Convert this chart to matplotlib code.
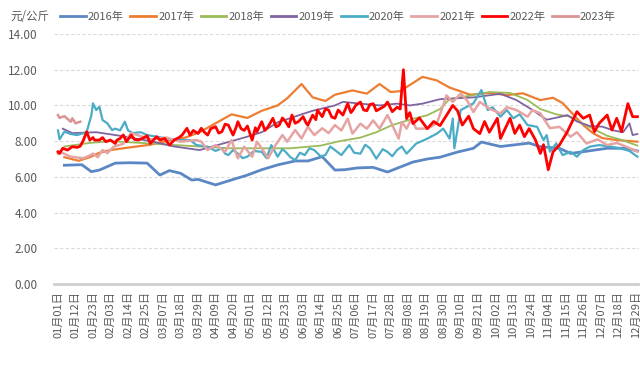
import matplotlib
matplotlib.use('Agg')
import matplotlib.pyplot as plt
from matplotlib.lines import Line2D

plt.rcParams['font.family'] = ['Noto Sans CJK SC', 'DejaVu Sans']

# x = day of year (0 = 01月01日)
tick_labels = ['01月01日', '01月12日', '01月23日', '02月03日', '02月14日', '02月25日',
               '03月07日', '03月18日', '03月29日', '04月09日', '04月20日', '05月01日',
               '05月12日', '05月23日', '06月03日', '06月14日', '06月25日', '07月06日',
               '07月17日', '07月28日', '08月08日', '08月19日', '08月30日', '09月10日',
               '09月21日', '10月02日', '10月13日', '10月24日', '11月04日', '11月15日',
               '11月26日', '12月07日', '12月18日', '12月29日']
tick_pos = [i * 11 for i in range(len(tick_labels))]

d2016 = [4, 15, 21, 26, 36, 45, 56, 64, 70, 77, 84, 88, 99, 107, 119, 128, 138, 149, 157, 166,
         174, 180, 188, 198, 207, 215, 223, 232, 240, 251, 261, 266, 278, 296, 303, 315, 322,
         330, 345, 357, 364]
v2016 = [6.65, 6.68, 6.29, 6.38, 6.77, 6.79, 6.77, 6.10, 6.35, 6.20, 5.82, 5.86, 5.55, 5.77, 6.10,
         6.40, 6.67, 6.89, 6.89, 7.13, 6.38, 6.40, 6.50, 6.53, 6.27, 6.55, 6.83, 7.00, 7.10, 7.39,
         7.60, 7.95, 7.70, 7.89, 7.69, 7.60, 7.31, 7.41, 7.60, 7.60, 7.45]

d2017 = [4, 13, 20, 26, 33, 41, 58, 73, 80, 89, 97, 109, 119, 128, 138, 144, 153, 160, 168, 174,
         185, 194, 202, 209, 215, 229, 238, 246, 259, 271, 282, 292, 303, 311, 317, 323, 330,
         336, 342, 351, 364]
v2017 = [7.10, 6.90, 7.10, 7.35, 7.50, 7.60, 7.80, 8.10, 8.20, 8.50, 8.90, 9.50, 9.30, 9.70, 10.00,
         10.40, 11.20, 10.45, 10.25, 10.60, 10.84, 10.66, 11.20, 10.75, 10.80, 11.60, 11.40, 11.00,
         10.60, 10.70, 10.58, 10.68, 10.30, 10.43, 10.13, 9.56, 8.90, 8.45, 8.17, 8.06, 7.97]

d2018 = [4, 20, 33, 52, 70, 89, 108, 127, 146, 165, 177, 190, 200, 210, 223, 232, 240, 246, 259,
         271, 284, 295, 303, 313, 322, 328, 336, 345, 353, 364]
v2018 = [7.70, 7.90, 8.00, 7.90, 7.80, 7.70, 7.60, 7.60, 7.60, 7.75, 8.00, 8.20, 8.50, 8.90, 9.25,
         9.45, 9.80, 10.35, 10.55, 10.75, 10.70, 10.30, 9.80, 9.50, 9.37, 9.05, 8.70, 8.30, 8.10, 7.75]

d2019 = [3, 9, 24, 39, 58, 73, 89, 105, 117, 128, 138, 153, 160, 174, 179, 190, 202, 213, 221, 229,
         240, 261, 278, 288, 298, 307, 315, 320, 326, 334, 342, 349, 355, 359, 361, 364]
v2019 = [8.70, 8.45, 8.50, 8.30, 8.00, 7.70, 7.50, 7.90, 8.20, 8.50, 9.05, 9.50, 9.70, 10.00, 10.20,
         10.10, 10.00, 10.10, 10.00, 10.10, 10.35, 10.45, 10.65, 10.30, 9.75, 9.20, 9.35, 9.46, 9.10,
         8.85, 8.81, 8.60, 8.50, 9.00, 8.34, 8.40]

d2020 = [0, 1, 4, 8, 12, 18, 21, 22, 24, 26, 28, 31, 34, 36, 39, 42, 44, 47, 52, 56, 62, 68, 75,
         83, 87, 94, 99, 103, 105, 107, 110, 113, 116, 119, 123, 128, 131, 134, 138, 141, 143, 146,
         149, 152, 155, 158, 161, 165, 168, 171, 174, 178, 183, 186, 190, 193, 196, 200, 204, 207,
         210, 213, 216, 219, 225, 232, 238, 242, 246, 248, 249, 253, 261, 266, 270, 273, 278, 282,
         286, 290, 295, 301, 305, 307, 309, 313, 317, 322, 326, 330, 334, 340, 347, 353, 359, 364]
v2020 = [8.60, 8.10, 8.53, 8.40, 8.34, 8.50, 9.46, 10.12, 9.74, 9.93, 9.18, 9.00, 8.62, 8.70, 8.60,
         9.09, 8.60, 8.45, 8.50, 8.34, 8.25, 8.15, 8.06, 8.06, 7.78, 7.69, 7.45, 7.60, 7.30, 7.22,
         7.50, 7.30, 7.05, 7.13, 7.45, 7.40, 7.05, 7.78, 7.13, 7.55, 7.40, 7.10, 6.94, 7.35, 7.22,
         7.60, 7.50, 7.15, 7.22, 7.70, 7.50, 7.22, 7.78, 7.35, 7.30, 7.80, 7.60, 7.02, 7.55, 7.40,
         7.15, 7.50, 7.70, 7.30, 7.86, 8.14, 8.42, 8.70, 8.14, 9.26, 7.60, 9.74, 10.12, 10.86, 9.74,
         9.90, 9.37, 9.74, 9.28, 9.50, 8.90, 8.80, 8.06, 8.34, 7.41, 7.87, 7.22, 7.40, 7.13, 7.50,
         7.69, 7.78, 7.70, 7.60, 7.45, 7.13]

d2021 = [0, 1, 8, 16, 20, 22, 25, 28, 31, 35, 41, 46, 50, 58, 68, 77, 87, 90, 94, 99, 105, 109,
         113, 117, 122, 125, 128, 132, 136, 141, 144, 149, 153, 157, 161, 166, 170, 174, 178, 182,
         185, 190, 194, 198, 202, 207, 210, 214, 216, 219, 222, 225, 232, 238, 242, 244, 248, 253,
         257, 261, 265, 271, 278, 282, 288, 295, 298, 303, 309, 315, 322, 326, 332, 339, 345, 351,
         357, 364]
v2021 = [7.30, 7.41, 7.13, 7.04, 7.20, 7.30, 7.10, 7.50, 7.33, 7.69, 7.85, 8.45, 8.34, 8.10, 8.20,
         7.97, 8.06, 7.97, 7.50, 7.78, 7.41, 8.06, 7.04, 7.69, 7.13, 7.97, 7.60, 7.04, 7.69, 8.34,
         7.97, 8.62, 8.15, 8.81, 8.34, 8.72, 8.45, 8.90, 8.60, 9.26, 8.42, 8.98, 8.70, 9.16, 8.70,
         9.46, 8.90, 8.14, 9.07, 8.70, 9.26, 8.70, 8.70, 9.00, 10.00, 10.56, 10.20, 10.66, 10.28,
         9.63, 10.20, 9.82, 9.55, 9.90, 9.74, 9.37, 9.74, 9.56, 8.73, 8.80, 8.25, 8.50, 7.87, 8.10,
         7.78, 7.90, 7.69, 7.41]

d2022 = [0, 1, 3, 6, 9, 12, 14, 16, 18, 20, 22, 23, 26, 28, 30, 33, 36, 37, 39, 41, 43, 46, 48, 50,
         53, 56, 58, 60, 62, 64, 67, 70, 73, 76, 78, 81, 83, 85, 88, 90, 92, 94, 96, 99, 101, 103,
         105, 107, 110, 112, 113, 115, 117, 119, 122, 124, 125, 127, 128, 130, 132, 135, 137, 139,
         141, 143, 145, 147, 149, 151, 154, 156, 157, 160, 162, 163, 166, 168, 170, 172, 174, 176,
         179, 182, 184, 185, 187, 190, 192, 194, 196, 198, 200, 202, 205, 207, 210, 213, 215, 217,
         219, 221, 223, 227, 232, 236, 240, 244, 248, 251, 254, 258, 261, 265, 268, 271, 276, 278,
         284, 287, 290, 293, 296, 300, 303, 305, 308, 311, 315, 320, 323, 326, 330, 334, 337, 340,
         345, 348, 351, 354, 358, 361, 364]
v2022 = [7.40, 7.31, 7.60, 7.50, 7.69, 7.65, 7.72, 8.06, 8.53, 8.06, 8.20, 8.06, 8.06, 8.20, 7.97,
         8.06, 7.87, 8.06, 8.15, 8.35, 7.97, 8.34, 8.10, 8.06, 8.15, 8.30, 7.87, 8.06, 8.25, 8.06,
         8.15, 7.78, 8.06, 8.20, 8.34, 8.72, 8.34, 8.60, 8.43, 8.72, 8.50, 8.34, 8.70, 8.81, 8.45,
         8.53, 8.95, 8.90, 8.34, 8.80, 9.09, 8.70, 8.60, 8.85, 8.06, 8.75, 8.53, 8.90, 9.09, 8.60,
         8.81, 9.28, 8.80, 8.90, 9.30, 9.09, 8.80, 9.46, 9.00, 9.09, 9.37, 9.00, 8.90, 9.46, 9.20,
         9.74, 9.37, 9.80, 9.74, 9.35, 9.28, 9.74, 9.46, 10.10, 9.60, 9.70, 10.00, 10.19, 9.75, 9.70,
         10.05, 10.10, 9.70, 9.80, 9.95, 10.19, 9.65, 9.90, 9.80, 12.00, 9.26, 9.60, 8.98, 9.30,
         8.70, 9.10, 8.87, 9.44, 10.00, 9.70, 8.90, 9.40, 8.70, 8.42, 9.10, 8.50, 9.28, 8.15, 9.28,
         8.43, 8.90, 8.25, 8.70, 8.06, 7.31, 7.80, 6.40, 7.40, 7.78, 8.53, 9.09, 9.65, 9.28, 9.46,
         8.53, 9.00, 9.46, 8.62, 9.28, 8.53, 10.10, 9.37, 9.37]

d2023 = [0, 1, 4, 8, 9, 11, 14]
v2023 = [9.46, 9.30, 9.40, 9.09, 9.28, 9.00, 9.09]

years = ['2016年', '2017年', '2018年', '2019年', '2020年', '2021年', '2022年', '2023年']
days = [d2016, d2017, d2018, d2019, d2020, d2021, d2022, d2023]
vals = [v2016, v2017, v2018, v2019, v2020, v2021, v2022, v2023]
colors = ['#5B87C5', '#ED7D31', '#9BBB59', '#8064A2', '#4BACC6', '#E6A3A3', '#FF0000', '#D99594']
widths = [2.0, 1.6, 1.3, 1.3, 1.6, 1.8, 2.0, 1.8]

fig = plt.figure(figsize=(6.4, 3.82), dpi=100)
ax = fig.add_axes([54 / 640, 98 / 382, 585 / 640, 250 / 382])

for d, v, c, w in zip(days, vals, colors, widths):
    ax.plot(d, v, color=c, linewidth=w, solid_joinstyle='round')

ax.set_xlim(-2.5, 365)
ax.set_ylim(0, 14)
ax.set_yticks(range(0, 15, 2))
ax.set_yticklabels(['%.2f' % t for t in range(0, 15, 2)])
ax.set_xticks(tick_pos)
ax.set_xticklabels(tick_labels, rotation=90)
ax.tick_params(axis='y', length=0, labelsize=8.5, labelcolor='#595959', pad=12)
ax.tick_params(axis='x', length=0, labelsize=8, labelcolor='#595959', pad=5)
ax.grid(axis='y', color='#D9D9D9', linestyle=(0, (3, 2)), linewidth=0.8)
for s in ['top', 'right', 'left']:
    ax.spines[s].set_visible(False)
ax.spines['bottom'].set_color('#D0D0D0')
ax.spines['bottom'].set_linewidth(2.0)
ax.spines['bottom'].set_linestyle((0, (1, 0.6)))

# unit label and legend along the top
fig.text(10 / 640, 1 - 17 / 382, '元/公斤', fontsize=8.3, color='#595959', va='center')
handles = [Line2D([0], [0], color=c, linewidth=2) for c in colors]
fig.legend(handles, years, loc='center left', bbox_to_anchor=(50 / 640, 1 - 17 / 382),
           ncol=8, frameon=False, fontsize=8, handlelength=2.3, handletextpad=0.2,
           columnspacing=0.6, labelcolor='#595959')

plt.savefig('out.png', dpi=100)
